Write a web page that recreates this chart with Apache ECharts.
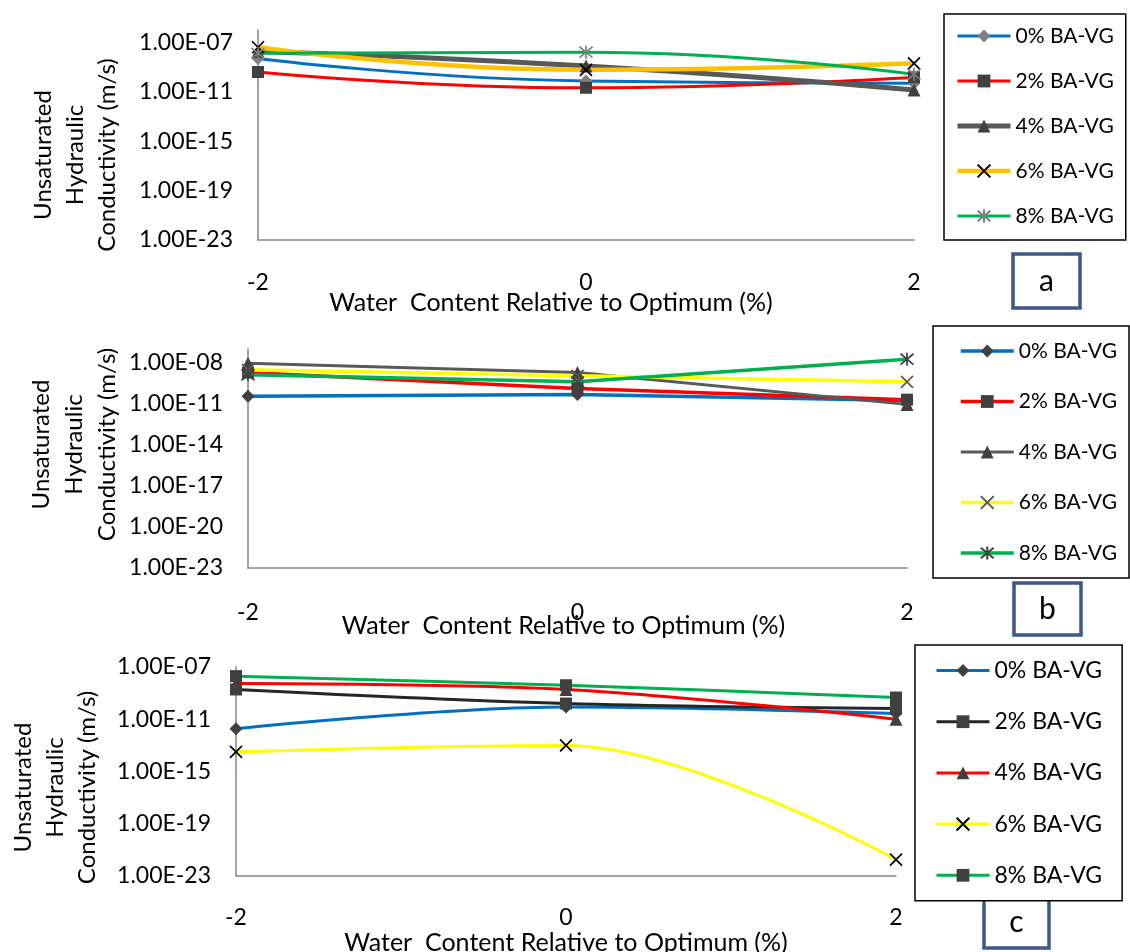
<!DOCTYPE html>
<html>
<head>
<meta charset="utf-8">
<script src="https://cdn.jsdelivr.net/npm/echarts@6/dist/echarts.min.js"></script>
<style>
html, body { margin: 0; padding: 0; background: #fff; }
#chart { width: 1130px; height: 952px; }
</style>
</head>
<body>
<div id="chart"></div>
<script>
// x: water content relative to optimum (%)
const waterContent = [-2, 0, 2];
const mixLabels = ['0% BA-VG', '2% BA-VG', '4% BA-VG', '6% BA-VG', '8% BA-VG'];

// panel a - unsaturated hydraulic conductivity (m/s)
const a0 = [5e-9, 7.5e-11, 5e-11];
const a2 = [4e-10, 2.1e-11, 1.5e-10];
const a4 = [1.8e-8, 1.2e-9, 1.4e-11];
const a6 = [4e-8, 6e-10, 2e-9];
const a8 = [1.3e-8, 1.6e-8, 2.6e-10];

// panel b
const b0 = [3.5e-11, 4.7e-11, 1.7e-11];
const b2 = [1.9e-9, 1.3e-10, 2e-11];
const b4 = [9e-9, 1.9e-9, 9e-12];
const b6 = [3e-9, 1.1e-9, 4e-10];
const b8 = [1.3e-9, 4e-10, 1.8e-8];

// panel c
const c0 = [1.9e-12, 8.7e-11, 2.7e-11];
const c2 = [1.9e-9, 1.6e-10, 6.6e-11];
const c4 = [5.4e-9, 1.9e-9, 1e-11];
const c6 = [3.2e-14, 1e-13, 1.8e-22];
const c8 = [2e-8, 4e-9, 4.6e-10];

// y axis range (decade exponents, log scale) and label step in decades
const yRangeA = [-23, -6];
const yRangeB = [-23, -7];
const yRangeC = [-23, -7];
const yStepA = 4;
const yStepB = 3;
const yStepC = 4;

const FONT = 'Lato, "Liberation Sans", sans-serif';
const X_MARK = 'path://M0,0L10,10M10,0L0,10';
const STAR_MARK = 'path://M0,0L10,10M10,0L0,10M5,-1L5,11';

// 1e-7 -> "1.00E-07"
function sciLabel(exp) {
  const parts = Math.pow(10, exp).toExponential(2).split('e');
  const e = parseInt(parts[1], 10);
  return parts[0] + 'E' + (e < 0 ? '-' : '+') + String(Math.abs(e)).padStart(2, '0');
}

function solid(symbol, size, fill) {
  return { symbol: symbol, symbolSize: size, itemStyle: { color: fill, borderWidth: 0 } };
}
function stroked(symbol, size, stroke) {
  return { symbol: symbol, symbolSize: size, itemStyle: { color: 'rgba(0,0,0,0)', borderColor: stroke, borderWidth: 1.7 } };
}

function makeSeries(panel, idx, values, lineColor, lineWidth, marker, smooth) {
  return Object.assign({
    type: 'line',
    name: panel + '|' + mixLabels[idx],
    xAxisIndex: 'abc'.indexOf(panel),
    yAxisIndex: 'abc'.indexOf(panel),
    smooth: smooth,
    showAllSymbol: true,
    lineStyle: { color: lineColor, width: lineWidth },
    emphasis: { disabled: true },
    // plotted on the log10 scale of the conductivity
    data: waterContent.map((x, i) => [x, Math.log10(values[i])])
  }, marker);
}

const series = [
  makeSeries('a', 0, a0, '#0070C0', 3, solid('diamond', 13, '#808080'), 0.5),
  makeSeries('a', 1, a2, '#FF0000', 3, solid('rect', 12, '#404040'), 0.5),
  makeSeries('a', 2, a4, '#595959', 5, solid('triangle', 13, '#404040'), 0.5),
  makeSeries('a', 3, a6, '#FFC000', 4.5, stroked(X_MARK, 12, '#000'), 0.5),
  makeSeries('a', 4, a8, '#00B050', 3, stroked(STAR_MARK, 13, '#7F7F7F'), 0.5),

  makeSeries('b', 0, b0, '#0070C0', 3.5, solid('diamond', 13, '#404040'), false),
  makeSeries('b', 1, b2, '#FF0000', 3.5, solid('rect', 12, '#404040'), false),
  makeSeries('b', 2, b4, '#595959', 3, solid('triangle', 13, '#404040'), false),
  makeSeries('b', 3, b6, '#FFFF00', 3.5, stroked(X_MARK, 12, '#595959'), false),
  makeSeries('b', 4, b8, '#00B050', 3.5, stroked(STAR_MARK, 13, '#404040'), false),

  makeSeries('c', 0, c0, '#0070C0', 3, solid('diamond', 13, '#404040'), 0.35),
  makeSeries('c', 1, c2, '#262626', 3, solid('rect', 12, '#404040'), 0.35),
  makeSeries('c', 2, c4, '#FF0000', 3, solid('triangle', 13, '#404040'), 0.35),
  makeSeries('c', 3, c6, '#FFFF00', 3, stroked(X_MARK, 12, '#000'), 0.35),
  makeSeries('c', 4, c8, '#00B050', 3, solid('rect', 12, '#404040'), 0.35)
];

function xAxisFor(gridIndex, labelMargin, nameGap, shiftLeft) {
  return {
    type: 'value',
    gridIndex: gridIndex,
    min: -2,
    max: 2,
    interval: 2,
    name: 'Water  Content Relative to Optimum (%)',
    nameLocation: 'middle',
    nameGap: nameGap,
    nameMoveOverlap: false,
    nameTextStyle: { fontFamily: FONT, fontSize: 25, lineHeight: 25, color: '#000', padding: [0, shiftLeft * 2, 0, 0] },
    axisLine: { show: true, onZero: false, lineStyle: { color: '#868686', width: 1.5 } },
    axisTick: { show: false },
    splitLine: { show: false },
    axisLabel: { margin: labelMargin, fontFamily: FONT, fontSize: 23, lineHeight: 23, color: '#000' }
  };
}

function yAxisFor(gridIndex, range, step, showMax, nameGap, shiftDown, lineHeight) {
  return {
    type: 'value',
    gridIndex: gridIndex,
    min: range[0],
    max: range[1],
    interval: step,
    name: 'Unsaturated\nHydraulic\nConductivity (m/s)',
    nameLocation: 'middle',
    nameRotate: 90,
    nameGap: nameGap,
    nameMoveOverlap: false,
    nameTextStyle: {
      fontFamily: FONT, fontSize: 24, lineHeight: lineHeight, color: '#000', align: 'center',
      padding: shiftDown >= 0 ? [0, shiftDown * 2, 0, 0] : [0, 0, 0, -shiftDown * 2]
    },
    axisLine: { show: true, onZero: false, lineStyle: { color: '#868686', width: 1.5 } },
    axisTick: { show: false },
    splitLine: { show: false },
    axisLabel: {
      margin: 25, fontFamily: FONT, fontSize: 23, color: '#000',
      showMaxLabel: showMax, formatter: sciLabel
    }
  };
}

function legendFor(panel, left, top, padding, gap, fontSize) {
  return {
    orient: 'vertical',
    left: left,
    top: top,
    padding: padding,
    itemGap: gap,
    itemWidth: 53,
    itemHeight: 16,
    borderColor: '#000',
    borderWidth: 1.5,
    backgroundColor: '#fff',
    lineStyle: { width: 'inherit' },
    data: mixLabels.map(m => panel + '|' + m),
    formatter: n => n.split('|')[1],
    textStyle: { fontFamily: FONT, fontSize: fontSize, lineHeight: 22, color: '#000' }
  };
}

function letterBox(x, y, w, h, letter) {
  return [
    { type: 'rect', shape: { x: x, y: y, width: w, height: h },
      style: { fill: '#fff', stroke: '#3B5A8A', lineWidth: 3.5 } },
    { type: 'text', x: x + w / 2, y: y + h / 2,
      style: { text: letter, fontFamily: FONT, fontSize: 30, fill: '#000', align: 'center', verticalAlign: 'middle' } }
  ];
}

const option = {
  animation: false,
  backgroundColor: '#fff',
  grid: [
    { left: 258, top: 30, width: 656, height: 210, outerBoundsMode: 'none' },
    { left: 248, top: 349, width: 659, height: 219, outerBoundsMode: 'none' },
    { left: 236, top: 667, width: 660, height: 209, outerBoundsMode: 'none' }
  ],
  xAxis: [
    xAxisFor(0, 31, 50, 35),
    xAxisFor(1, 33, 45, 14),
    xAxisFor(2, 30, 54, 0)
  ],
  yAxis: [
    yAxisFor(0, yRangeA, yStepA, false, 135, 20, 32),
    yAxisFor(1, yRangeB, yStepB, false, 124, -14, 33),
    yAxisFor(2, yRangeC, yStepC, true, 133, 16, 32)
  ],
  legend: [
    legendFor('a', 944, 14, [11, 12, 13, 11], 23, 21),
    legendFor('b', 933, 326, [14, 12, 14, 26], 28.5, 21),
    legendFor('c', 915, 645, [14, 20, 14, 20], 28.2, 23)
  ],
  graphic: [].concat(
    letterBox(1013, 254, 67, 54, 'a'),
    letterBox(1014, 583, 67, 52, 'b'),
    letterBox(984, 897, 65, 51, 'c')
  ),
  series: series
};

const chart = echarts.init(document.getElementById('chart'));
chart.setOption(option);
</script>
</body>
</html>
